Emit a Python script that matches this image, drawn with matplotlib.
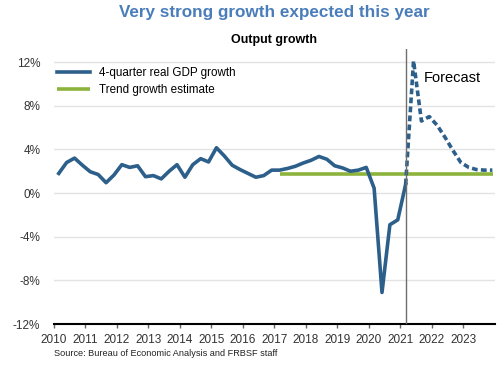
import matplotlib
matplotlib.use("Agg")
import matplotlib.pyplot as plt
import numpy as np

plt.rcParams['font.family'] = ['Liberation Sans', 'DejaVu Sans']

# Quarterly data, 2010Q1 .. 2021Q1 (4-quarter real GDP growth, %)
hist_start_year = 2010
gdp_hist = [1.8, 2.8, 3.2, 2.55, 1.95, 1.7, 0.95, 1.65, 2.6, 2.35, 2.5, 1.5,
            1.6, 1.3, 2.0, 2.6,
            1.45, 2.6, 3.15, 2.85, 4.15, 3.4, 2.55, 2.15,
            1.8, 1.45, 1.6, 2.1,
            2.1, 2.25, 2.45, 2.75,
            3.0, 3.35, 3.1, 2.5,
            2.3, 2.0, 2.1, 2.35,
            0.45, -9.1, -2.9, -2.45,
            0.8]
# Forecast 2021Q1 .. 2023Q4
fc_start_year = 2021
gdp_forecast = [0.8, 12.1, 6.6, 7.0, 6.2, 5.1, 3.9, 2.8, 2.35, 2.15, 2.1, 2.1]
trend_value = 1.75
trend_start = 2017.17
trend_end = 2023.95
forecast_line = 2021.17

year_ticks = list(range(2010, 2024))
y_ticks = [-12, -8, -4, 0, 4, 8, 12]

def qdates(start, n):
    return [start + (3 * (i % 4) + 2) / 12.0 + i // 4 for i in range(n)]

t_hist = qdates(hist_start_year, len(gdp_hist))
t_fc = qdates(fc_start_year, len(gdp_forecast))

blue = '#2d5f8b'
green = '#8cb43c'

fig = plt.figure(figsize=(5.0, 3.65), dpi=100)
ax = fig.add_axes([0.107, 0.112, 0.883, 0.754])

for y in y_ticks[1:]:
    ax.axhline(y, color='#e3e3e3', lw=1.0, zorder=0)

ax.plot([trend_start, trend_end], [trend_value, trend_value], color=green, lw=2.6,
        solid_capstyle='butt', zorder=2, label='Trend growth estimate')
ax.plot(t_hist, gdp_hist, color=blue, lw=2.6, zorder=3, label='4-quarter real GDP growth',
        solid_joinstyle='round')
ax.plot(t_fc, gdp_forecast, color=blue, lw=2.6, ls=(0, (1.6, 0.9)), zorder=3)
ax.axvline(forecast_line, color='#6e6e6e', lw=1.0, zorder=4)

ax.text(2021.75, 10.55, 'Forecast', fontsize=10.5, color='black', ha='left', va='center')

ax.set_xlim(2010, 2024)
ax.set_ylim(-12, 13.2)
ax.set_yticks(y_ticks)
ax.set_yticklabels([f'{v}%' for v in y_ticks])
ax.set_xticks(year_ticks)
ax.set_xticklabels([str(y) for y in year_ticks])
ax.tick_params(axis='y', length=0, labelsize=8.5, labelcolor='#333333', pad=9.5)
ax.tick_params(axis='x', length=3, width=1, labelsize=8.5, labelcolor='#333333',
               color='#666666', direction='out', pad=4)
for s in ['left', 'right', 'top']:
    ax.spines[s].set_visible(False)
ax.spines['bottom'].set_color('black')
ax.spines['bottom'].set_linewidth(1.5)

handles, labels = ax.get_legend_handles_labels()
leg = ax.legend(handles[::-1], labels[::-1], loc='upper left',
                bbox_to_anchor=(-0.005, 1.0 - 0.045),
                frameon=False, fontsize=8.4, handlelength=2.8, handletextpad=0.75,
                labelspacing=0.45, borderaxespad=0.1)

fig.text(0.548, 0.965, 'Very strong growth expected this year', ha='center', va='center',
         fontsize=12.3, fontweight='bold', color='#4a7ebb')
fig.text(0.548, 0.89, 'Output growth', ha='center', va='center', fontsize=9,
         fontweight='bold', color='black')
fig.text(0.107, 0.032, 'Source: Bureau of Economic Analysis and FRBSF staff', ha='left',
         va='center', fontsize=6.6, color='#222222')

fig.savefig('out.png', dpi=100)
